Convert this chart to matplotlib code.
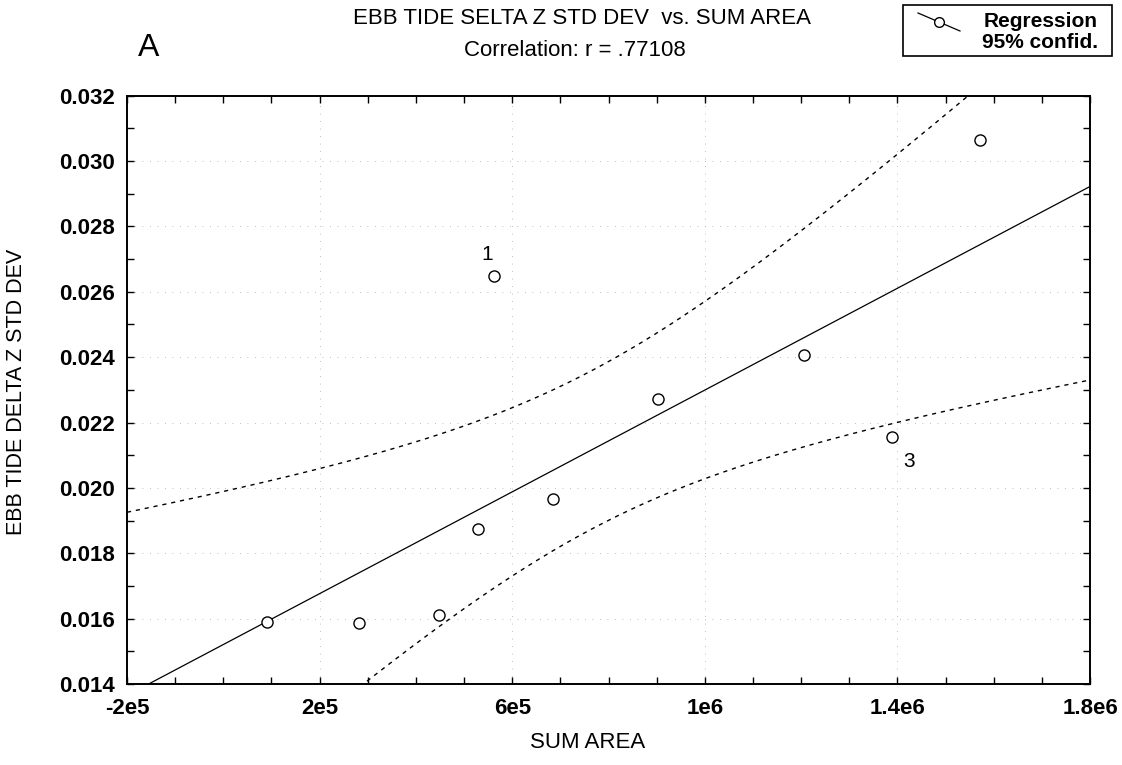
import numpy as np
import matplotlib
matplotlib.use("Agg")
import matplotlib.pyplot as plt
from matplotlib.lines import Line2D
from matplotlib.patches import Rectangle
from matplotlib.ticker import MultipleLocator

plt.rcParams['font.family'] = ['Liberation Sans', 'DejaVu Sans']

# data
sum_area = [90000, 282000, 449000, 528000, 684000, 903000, 1207000, 1389000, 1572000, 562000]
ebb_std = [0.01591, 0.01586, 0.01611, 0.01874, 0.01966, 0.02272, 0.02407, 0.02157, 0.03064, 0.02648]
point_labels = {9: "1", 7: "3"}
x_ticks = [-2e5, 2e5, 6e5, 1e6, 1.4e6, 1.8e6]
x_tick_labels = ["-2e5", "2e5", "6e5", "1e6", "1.4e6", "1.8e6"]
y_ticks = [0.014, 0.016, 0.018, 0.020, 0.022, 0.024, 0.026, 0.028, 0.030, 0.032]
y_tick_labels = ["0.014", "0.016", "0.018", "0.020", "0.022", "0.024", "0.026", "0.028", "0.030", "0.032"]
t_crit = 2.306  # 95%, df = 8

x = np.array(sum_area, dtype=float)
y = np.array(ebb_std, dtype=float)
n = len(x)
b, a = np.polyfit(x, y, 1)
resid = y - (a + b * x)
s = np.sqrt(np.sum(resid ** 2) / (n - 2))
sxx = np.sum((x - x.mean()) ** 2)
xl = np.linspace(-2e5, 1.8e6, 300)
yl = a + b * xl
half = t_crit * s * np.sqrt(1.0 / n + (xl - x.mean()) ** 2 / sxx)

W, H = 1122, 765
fig = plt.figure(figsize=(11.22, 7.65), dpi=100)
ax = fig.add_axes([127 / W, 1 - 684 / H, (1090 - 127) / W, (684 - 95.7) / H])

ax.plot(xl, yl, color='black', lw=0.9, zorder=3)
ax.plot(xl, yl + half, color='black', lw=1.0, ls=(0, (3, 3.5)), zorder=3)
ax.plot(xl, yl - half, color='black', lw=1.0, ls=(0, (3, 3.5)), zorder=3)
ax.plot(x, y, ls='none', marker='o', ms=8, mfc='white', mec='black', mew=1.0, zorder=4)

for i, lab in point_labels.items():
    if lab == "1":
        ax.annotate(lab, (x[i], y[i]), xytext=(-5, 9), textcoords='offset points',
                    fontsize=15, ha='center', va='bottom')
    else:
        ax.annotate(lab, (x[i], y[i]), xytext=(12, -11), textcoords='offset points',
                    fontsize=15, ha='center', va='top')

ax.set_xlim(-2e5, 1.8e6)
ax.set_ylim(0.014, 0.032)
ax.set_xticks(x_ticks)
ax.set_xticklabels(x_tick_labels)
ax.set_yticks(y_ticks)
ax.set_yticklabels(y_tick_labels)
ax.xaxis.set_minor_locator(MultipleLocator(1e5))
ax.yaxis.set_minor_locator(MultipleLocator(0.001))
ax.tick_params(which='both', direction='in', top=True, right=True, length=5, width=1.0)
ax.tick_params(which='major', labelsize=16)
ax.tick_params(axis='x', which='major', pad=10)
ax.tick_params(axis='y', which='major', pad=8.5)
for lab in ax.get_xticklabels() + ax.get_yticklabels():
    lab.set_fontweight('bold')
ax.grid(True, which='major', color='#aaaaaa', lw=0.6, ls=(0, (1, 8)))
for sp in ax.spines.values():
    sp.set_linewidth(1.4)

ax.set_xlabel("SUM AREA", fontsize=16, va='center')
ax.xaxis.set_label_coords((588 - 127) / 963, -(742 - 684) / 588.3)
ax.set_ylabel("EBB TIDE DELTA Z STD DEV", fontsize=15.5, va='center')
ax.yaxis.set_label_coords(-(127 - 17) / 963, (684 - 392) / 588.3)

fig.text(582 / W, 1 - 19 / H, "EBB TIDE SELTA Z STD DEV  vs. SUM AREA", fontsize=16,
         ha='center', va='center')
fig.text(575 / W, 1 - 50 / H, "Correlation: r = .77108", fontsize=16,
         ha='center', va='center')
fig.text(149 / W, 1 - 48 / H, "A", fontsize=23, ha='center', va='center')

# legend box
fig.patches.append(Rectangle((903 / W, 1 - 56 / H), 209 / W, 51 / H,
                             transform=fig.transFigure, fill=False, ec='black', lw=1.2))
fig.lines.append(Line2D([918 / W, 960 / W], [1 - 13 / H, 1 - 31 / H],
                        transform=fig.transFigure, color='black', lw=0.9))
fig.lines.append(Line2D([939 / W], [1 - 22 / H], transform=fig.transFigure,
                        marker='o', ms=7, mfc='white', mec='black', ls='none'))
fig.text(1098 / W, 1 - 27 / H, "Regression", fontsize=15, fontweight='bold',
         ha='right', va='baseline')
fig.text(1098 / W, 1 - 48 / H, "95% confid.", fontsize=15, fontweight='bold',
         ha='right', va='baseline')

fig.savefig("out.png", dpi=100)
